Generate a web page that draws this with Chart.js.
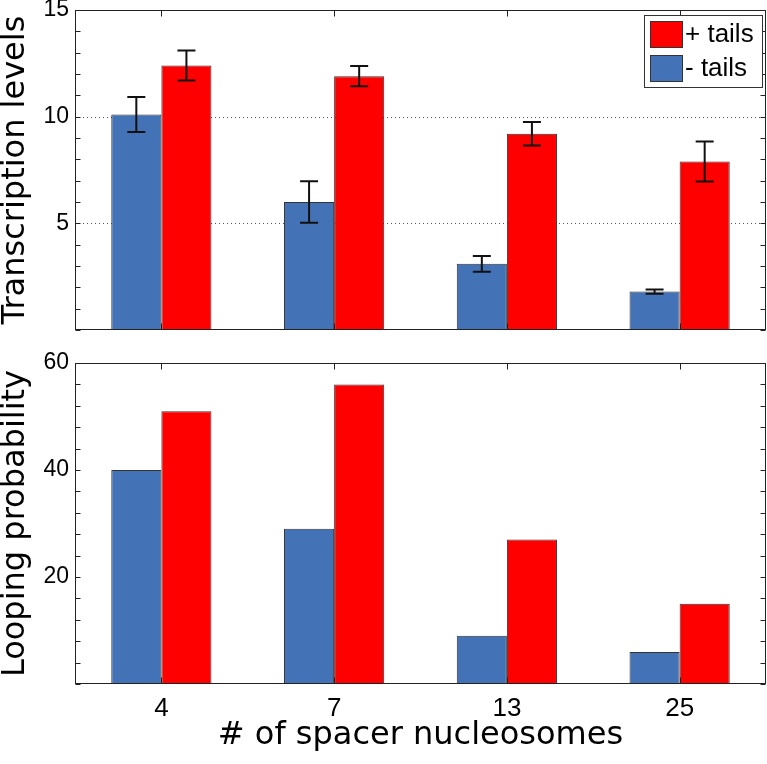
<!DOCTYPE html>
<html>
<head>
<meta charset="utf-8">
<script src="https://cdn.jsdelivr.net/npm/chart.js@4"></script>
<style>
  body { margin: 0; background: #fff; }
  #wrap { position: relative; width: 767px; height: 764px; }
  .panel { position: absolute; left: 0; width: 767px; }
  #top { top: 0; height: 340px; }
  #bot { top: 340px; height: 424px; }
</style>
</head>
<body>
<div id="wrap">
  <div class="panel" id="top"><canvas id="transChart"></canvas></div>
  <div class="panel" id="bot"><canvas id="loopChart"></canvas></div>
</div>
<script>
// data
const categories = ['4', '7', '13', '25'];
const transMinus = [10.1, 6.0, 3.1, 1.8];
const transMinusErr = [0.82, 0.97, 0.37, 0.1];
const transPlus = [12.4, 11.9, 9.2, 7.9];
const transPlusErr = [0.7, 0.48, 0.55, 0.94];
const loopMinus = [40, 29, 9, 6];
const loopPlus = [51, 56, 27, 15];

const BLUE = '#4472B6';
const RED = '#FF0000';
const SANS = "'Liberation Sans', Arial, sans-serif";

// dotted grid behind bars, box frame + inner ticks on top
const framePlugin = {
    id: 'frame',
    beforeDatasetsDraw(chart, args, opts) {
        const { ctx, chartArea: a } = chart;
        const y = chart.scales.y;
        ctx.save();
        ctx.strokeStyle = '#555';
        ctx.lineWidth = 1;
        ctx.setLineDash([1, 3]);
        (opts.gridAt || []).forEach(v => {
            const py = Math.round(y.getPixelForValue(v)) + 0.5;
            ctx.beginPath();
            ctx.moveTo(a.left, py);
            ctx.lineTo(a.right, py);
            ctx.stroke();
        });
        ctx.restore();
    },
    afterDatasetsDraw(chart) {
        const { ctx, chartArea: a } = chart;
        const x = chart.scales.x, y = chart.scales.y;
        const L = Math.round(a.left) + 0.5, R = Math.round(a.right) - 0.5;
        const T = Math.round(a.top) + 0.5, B = Math.round(a.bottom) - 0.5;
        ctx.save();
        ctx.strokeStyle = '#222';
        ctx.lineWidth = 1;
        ctx.strokeRect(L, T, R - L, B - T);
        ctx.beginPath();
        y.ticks.forEach(t => {
            const py = Math.round(y.getPixelForValue(t.value)) + 0.5;
            ctx.moveTo(L, py); ctx.lineTo(L + 5, py);
            ctx.moveTo(R, py); ctx.lineTo(R - 5, py);
        });
        categories.forEach((c, i) => {
            const px = Math.round(x.getPixelForValue(i)) + 0.5;
            ctx.moveTo(px, T); ctx.lineTo(px, T + 6);
            ctx.moveTo(px, B); ctx.lineTo(px, B - 6);
        });
        ctx.stroke();
        ctx.restore();
    }
};

const errorBarPlugin = {
    id: 'errbars',
    afterDatasetsDraw(chart) {
        const { ctx } = chart;
        const y = chart.scales.y;
        ctx.save();
        ctx.strokeStyle = '#111';
        ctx.lineWidth = 2;
        chart.data.datasets.forEach((ds, di) => {
            if (!ds.errors) return;
            chart.getDatasetMeta(di).data.forEach((bar, i) => {
                const v = ds.data[i], e = ds.errors[i];
                const y1 = y.getPixelForValue(v + e), y2 = y.getPixelForValue(v - e);
                ctx.beginPath();
                ctx.moveTo(bar.x, y1); ctx.lineTo(bar.x, y2);
                ctx.moveTo(bar.x - 9, y1); ctx.lineTo(bar.x + 9, y1);
                ctx.moveTo(bar.x - 9, y2); ctx.lineTo(bar.x + 9, y2);
                ctx.stroke();
            });
        });
        ctx.restore();
    }
};

// boxed legend in the top-right corner of the plot area
const boxLegendPlugin = {
    id: 'boxLegend',
    afterDraw(chart, args, opts) {
        if (!opts.show) return;
        const { ctx, chartArea: a } = chart;
        const items = chart.data.datasets.slice().reverse();
        const w = 118, h = 72;
        const bx = a.right - 4 - w, by = a.top + 5;
        ctx.save();
        ctx.fillStyle = '#fff';
        ctx.fillRect(bx, by, w, h);
        ctx.strokeStyle = '#333';
        ctx.lineWidth = 1;
        ctx.strokeRect(bx + 0.5, by + 0.5, w, h);
        ctx.font = '26px ' + SANS;
        ctx.textBaseline = 'middle';
        items.forEach((ds, i) => {
            const ry = by + 6 + i * 34;
            ctx.fillStyle = ds.backgroundColor;
            ctx.fillRect(bx + 6, ry, 32, 26);
            ctx.strokeStyle = '#333';
            ctx.strokeRect(bx + 6.5, ry + 0.5, 32, 26);
            ctx.fillStyle = '#000';
            ctx.fillText(ds.label, bx + 41, ry + 14);
        });
        ctx.restore();
    }
};

function yAxis(max, step, labelEvery, title) {
    return {
        min: 0,
        max: max,
        grid: { display: false, drawTicks: false },
        border: { display: false },
        ticks: {
            stepSize: step,
            autoSkip: false,
            padding: 6,
            color: '#000',
            font: { family: SANS, size: 23, lineHeight: 0.3 },
            callback: v => (v > 0 && v % labelEvery === 0) ? v : ''
        },
        title: {
            display: true,
            text: title,
            color: '#000',
            font: { family: "'DejaVu Sans', sans-serif", size: 32, lineHeight: 1 },
            padding: { top: 0, bottom: 0 }
        },
        afterFit: s => { s.width = 75; }
    };
}

Chart.register(framePlugin, errorBarPlugin, boxLegendPlugin);

new Chart(document.getElementById('transChart'), {
    type: 'bar',
    data: {
        labels: categories,
        datasets: [
            { label: '- tails', data: transMinus, errors: transMinusErr, backgroundColor: BLUE, borderColor: '#333', borderWidth: 1 },
            { label: '+ tails', data: transPlus, errors: transPlusErr, backgroundColor: RED, borderColor: '#333', borderWidth: 1 }
        ]
    },
    options: {
        responsive: true,
        maintainAspectRatio: false,
        animation: false,
        categoryPercentage: 0.58,
        barPercentage: 1,
        layout: { padding: { top: 10, right: 1, bottom: 10, left: 0 } },
        plugins: {
            legend: { display: false },
            tooltip: { enabled: false },
            frame: { gridAt: [5, 10] },
            boxLegend: { show: true }
        },
        scales: {
            x: {
                grid: { display: false, drawTicks: false },
                border: { display: false },
                ticks: { display: false },
                afterFit: s => { s.height = 0; }
            },
            y: yAxis(15, 1, 5, 'Transcription levels')
        }
    }
});

new Chart(document.getElementById('loopChart'), {
    type: 'bar',
    data: {
        labels: categories,
        datasets: [
            { label: '- tails', data: loopMinus, backgroundColor: BLUE, borderColor: '#333', borderWidth: 1 },
            { label: '+ tails', data: loopPlus, backgroundColor: RED, borderColor: '#333', borderWidth: 1 }
        ]
    },
    options: {
        responsive: true,
        maintainAspectRatio: false,
        animation: false,
        categoryPercentage: 0.58,
        barPercentage: 1,
        layout: { padding: { top: 23, right: 1, bottom: 0, left: 0 } },
        plugins: {
            legend: { display: false },
            tooltip: { enabled: false },
            frame: { gridAt: [] },
            boxLegend: { show: false }
        },
        scales: {
            x: {
                grid: { display: false, drawTicks: false },
                border: { display: false },
                ticks: {
                    padding: 9,
                    color: '#000',
                    font: { family: SANS, size: 26 }
                },
                title: {
                    display: true,
                    text: '# of spacer nucleosomes',
                    color: '#000',
                    font: { family: "'DejaVu Sans', sans-serif", size: 32, lineHeight: 1 },
                    padding: { top: 0, bottom: 12 }
                },
                afterFit: s => { s.height = 80; }
            },
            y: yAxis(60, 4, 20, 'Looping probability')
        }
    }
});
</script>
</body>
</html>
